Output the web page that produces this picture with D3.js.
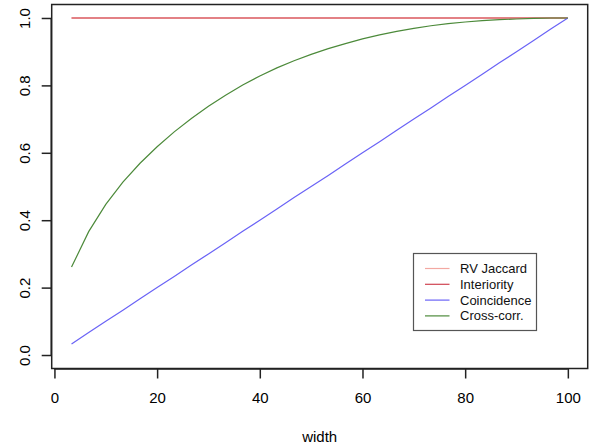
<!DOCTYPE html>
<html><head><meta charset="utf-8">
<script src="https://cdn.jsdelivr.net/npm/d3@7"></script>
<style>html,body{margin:0;padding:0;background:#fff;}svg{display:block;font-family:"Liberation Sans",Arial,Helvetica,sans-serif;}</style>
</head><body>
<svg id="c" width="595" height="447"></svg>
<script>
const widths = [3.33,6.67,10,13.33,16.67,20,23.33,26.67,30,33.33,36.67,40,43.33,46.67,50,53.33,56.67,60,63.33,66.67,70,73.33,76.67,80,83.33,86.67,90,93.33,96.67,100];
const rvJaccard = [1,1,1,1,1,1,1,1,1,1,1,1,1,1,1,1,1,1,1,1,1,1,1,1,1,1,1,1,1,1];
const interiority = [1,1,1,1,1,1,1,1,1,1,1,1,1,1,1,1,1,1,1,1,1,1,1,1,1,1,1,1,1,1];
const coincidence = [0.033,0.067,0.1,0.133,0.167,0.2,0.233,0.267,0.3,0.333,0.367,0.4,0.433,0.467,0.5,0.533,0.567,0.6,0.633,0.667,0.7,0.733,0.767,0.8,0.833,0.867,0.9,0.933,0.967,1.0];
const crossCorr = [0.261,0.366,0.447,0.513,0.569,0.618,0.662,0.702,0.738,0.771,0.801,0.828,0.852,0.873,0.892,0.909,0.924,0.938,0.950,0.960,0.969,0.977,0.983,0.988,0.992,0.995,0.997,0.999,1.0,1.0];
const seriesNames = ["RV Jaccard","Interiority","Coincidence","Cross-corr."];
const seriesColors = ["#F3A8A2","#D04552","#6A63F6","#4C8A3A"];
const xTicks = [0,20,40,60,80,100];
const yTicks = [0,0.2,0.4,0.6,0.8,1.0];
const xLabel = "width";

const svg = d3.select("#c");
const L = 51.7, R = 587.7, T = 4.5, B = 368.5;
const x = d3.scaleLinear().domain([-0.533, 103.867]).range([L, R]);
const y = d3.scaleLinear().domain([-0.04, 1.04]).range([B, T]);

const allSeries = [rvJaccard, interiority, coincidence, crossCorr];
const line = d3.line().x(d => x(d[0])).y(d => y(d[1]));
allSeries.forEach((vals, i) => {
  svg.append("path")
    .datum(widths.map((w, j) => [w, vals[j]]))
    .attr("d", line)
    .attr("fill", "none")
    .attr("stroke", seriesColors[i])
    .attr("stroke-width", i === 0 ? 1.6 : 1.2);
});

// box
svg.append("rect").attr("x", L).attr("y", T).attr("width", R - L).attr("height", B - T)
  .attr("fill", "none").attr("stroke", "#222").attr("stroke-width", 1.5);

// axes
const xAxis = d3.axisBottom(x).tickValues(xTicks).tickSize(10).tickPadding(14).tickFormat(d3.format("d"));
const gx = svg.append("g").attr("transform", `translate(0,${B})`).call(xAxis);
gx.select(".domain").attr("d", `M${x(0)},0.5H${x(100)}`).attr("stroke", "#222").attr("stroke-width", 1.5);
gx.selectAll(".tick line").attr("stroke", "#222").attr("stroke-width", 1.5);
gx.selectAll(".tick text").attr("font-size", 15).attr("fill", "#000")
  .attr("font-family", '"Liberation Sans",Arial,sans-serif');

const yAxis = d3.axisLeft(y).tickValues(yTicks).tickSize(10).tickFormat(d3.format(".1f"));
const gy = svg.append("g").attr("transform", `translate(${L},0)`).call(yAxis);
gy.select(".domain").attr("d", `M-0.5,${y(0)}V${y(1)}`).attr("stroke", "#222").attr("stroke-width", 1.5);
gy.selectAll(".tick line").attr("stroke", "#222").attr("stroke-width", 1.5);
gy.selectAll(".tick text")
  .attr("font-size", 15).attr("fill", "#000")
  .attr("font-family", '"Liberation Sans",Arial,sans-serif')
  .attr("x", null).attr("dy", null)
  .attr("text-anchor", "middle")
  .attr("transform", "translate(-27,0) rotate(-90)")
  .attr("dy", "0.35em");

svg.append("text").attr("x", (L + R) / 2).attr("y", 442)
  .attr("text-anchor", "middle").attr("font-size", 15).text(xLabel);

// legend
const lg = svg.append("g");
lg.append("rect").attr("x", 413.5).attr("y", 253.5).attr("width", 123).attr("height", 77)
  .attr("fill", "#fff").attr("stroke", "#555").attr("stroke-width", 1.2);
seriesNames.forEach((n, i) => {
  const yy = 268.5 + i * 15.8;
  lg.append("line").attr("x1", 425).attr("x2", 449.5).attr("y1", yy).attr("y2", yy)
    .attr("stroke", seriesColors[i]).attr("stroke-width", 1.2);
  lg.append("text").attr("x", 460).attr("y", yy).attr("dy", "0.35em")
    .attr("font-size", 13).attr("fill", "#111").text(n);
});
</script>
</body></html>
